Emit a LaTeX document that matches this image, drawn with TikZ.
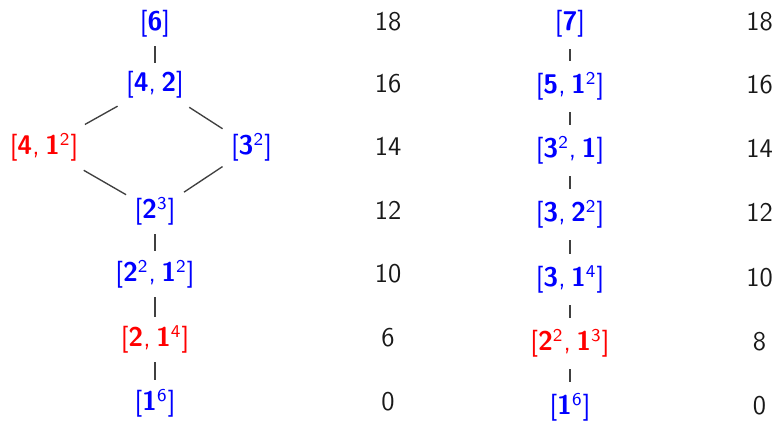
\documentclass[tikz,border=0pt]{standalone}
\newcommand\Bd[1]{\textbf{#1}}
\newcommand\Sp[1]{\textsuperscript{#1}}
\newcommand\Cm{,\kern0.2em}
\definecolor{lnc}{HTML}{404040}
\begin{document}
\begin{tikzpicture}[x=0.4444pt,y=-0.4444pt,
  every node/.style={font=\sffamily\large, anchor=base, inner sep=3.6pt},
  bl/.style={text=blue},
  rd/.style={text=red},
  num/.style={text=black!90},
  edge/.style={draw=lnc, line width=0.6pt},
  redge/.style={edge, shorten <=1.3pt, shorten >=1.3pt}]
\useasboundingbox (0,0) rectangle (776,422);
% left diagram
\node[bl] (a6)   at (155,31)  {[\Bd{6}]};
\node[bl] (a42)  at (155,92)  {[\Bd{4}\Cm\Bd{2}]};
\node[rd] (a411) at (44,155)  {[\Bd{4}\Cm\Bd{1}\Sp{2}]};
\node[bl] (a33)  at (251.5,155) {[\Bd{3}\Sp{2}]};
\node[bl] (a222) at (155,219) {[\Bd{2}\Sp{3}]};
\node[bl] (a2211) at (155,282) {[\Bd{2}\Sp{2}\Cm\Bd{1}\Sp{2}]};
\node[rd] (a21)  at (155,347) {[\Bd{2}\Cm\Bd{1}\Sp{4}]};
\node[bl] (a1)   at (155,411) {[\Bd{1}\Sp{6}]};
\draw[edge] (a6) -- (a42);
\draw[edge] (a42) -- (a411);
\draw[edge] (a42) -- (a33);
\draw[edge] (a411) -- (a222);
\draw[edge] (a33) -- (a222);
\draw[edge] (a222) -- (a2211);
\draw[edge] (a2211) -- (a21);
\draw[edge] (a21) -- (a1);
\node[num] (n1) at (388,31)  {18};
\node[num] (n2) at (388,93)  {16};
\node[num] (n3) at (388,156) {14};
\node[num] (n4) at (388,220) {12};
\node[num] (n5) at (388,283) {10};
\node[num] (n6) at (388,347) {6};
\node[num] (n7) at (388,411) {0};
% right diagram
\node[bl] (b7)   at (570,31)  {[\Bd{7}]};
\node[bl] (b511) at (570,94)  {[\Bd{5}\Cm\Bd{1}\Sp{2}]};
\node[bl] (b331) at (570,158) {[\Bd{3}\Sp{2}\Cm\Bd{1}]};
\node[bl] (b322) at (570,222) {[\Bd{3}\Cm\Bd{2}\Sp{2}]};
\node[bl] (b31)  at (570,287) {[\Bd{3}\Cm\Bd{1}\Sp{4}]};
\node[rd] (b221) at (570,351) {[\Bd{2}\Sp{2}\Cm\Bd{1}\Sp{3}]};
\node[bl] (b1)   at (570,415) {[\Bd{1}\Sp{6}]};
\draw[redge] (b7) -- (b511);
\draw[redge] (b511) -- (b331);
\draw[redge] (b331) -- (b322);
\draw[redge] (b322) -- (b31);
\draw[redge] (b31) -- (b221);
\draw[redge] (b221) -- (b1);
\node[num] (m1) at (759.5,31)  {18};
\node[num] (m2) at (759.5,94)  {16};
\node[num] (m3) at (759.5,158) {14};
\node[num] (m4) at (759.5,222) {12};
\node[num] (m5) at (759.5,287) {10};
\node[num] (m6) at (759.5,351) {8};
\node[num] (m7) at (759.5,415) {0};
\end{tikzpicture}
\end{document}
